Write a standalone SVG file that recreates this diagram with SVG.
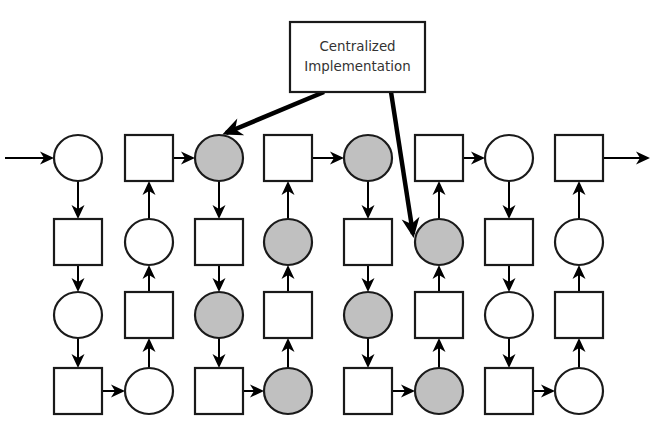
<svg xmlns="http://www.w3.org/2000/svg" width="655" height="426" viewBox="0 0 655 426">
<defs>
<style>
.n{stroke:#1a1a1a;stroke-width:2.2;fill:#fff}
.g{fill:#c0c0c0}
.e{stroke:#000;stroke-width:2;fill:none;marker-end:url(#a)}
.t{stroke:#000;stroke-width:4.5;fill:none;marker-end:url(#b)}
.lbl{font-family:"DejaVu Sans",sans-serif;font-size:13.4px;fill:#333;text-anchor:middle}
</style>
<marker id="a" viewBox="-15 -8 17 16" markerWidth="17" markerHeight="16" refX="-3" refY="0" orient="auto" markerUnits="userSpaceOnUse">
<path d="M0,0 L-14,-6.5 L-10,0 L-14,6.5 Z" fill="#000"/>
</marker>
<marker id="b" viewBox="-22 -10 24 20" markerWidth="24" markerHeight="20" refX="-4" refY="0" orient="auto" markerUnits="userSpaceOnUse">
<path d="M0,0 L-20,-9 L-14,0 L-20,9 Z" fill="#000"/>
</marker>
</defs>
<rect width="655" height="426" fill="#fff"/>

<g id="connectors">
<line class="e" x1="5" y1="158" x2="51" y2="158"/>
<line class="e" x1="173" y1="158" x2="192" y2="158"/>
<line class="e" x1="312" y1="158" x2="341" y2="158"/>
<line class="e" x1="463" y1="158" x2="482" y2="158"/>
<line class="e" x1="603" y1="158" x2="647" y2="158"/>
<line class="e" x1="102" y1="391" x2="122" y2="391"/>
<line class="e" x1="243" y1="391" x2="261" y2="391"/>
<line class="e" x1="392" y1="391" x2="412" y2="391"/>
<line class="e" x1="533" y1="391" x2="552" y2="391"/>
<line class="e" x1="78" y1="181" x2="78" y2="216"/>
<line class="e" x1="78" y1="265" x2="78" y2="289"/>
<line class="e" x1="78" y1="338" x2="78" y2="365"/>
<line class="e" x1="219" y1="181" x2="219" y2="216"/>
<line class="e" x1="219" y1="265" x2="219" y2="289"/>
<line class="e" x1="219" y1="338" x2="219" y2="365"/>
<line class="e" x1="368" y1="181" x2="368" y2="216"/>
<line class="e" x1="368" y1="265" x2="368" y2="289"/>
<line class="e" x1="368" y1="338" x2="368" y2="365"/>
<line class="e" x1="509" y1="181" x2="509" y2="216"/>
<line class="e" x1="509" y1="265" x2="509" y2="289"/>
<line class="e" x1="509" y1="338" x2="509" y2="365"/>
<line class="e" x1="149" y1="368" x2="149" y2="341"/>
<line class="e" x1="149" y1="292" x2="149" y2="268"/>
<line class="e" x1="149" y1="219" x2="149" y2="184"/>
<line class="e" x1="288" y1="368" x2="288" y2="341"/>
<line class="e" x1="288" y1="292" x2="288" y2="268"/>
<line class="e" x1="288" y1="219" x2="288" y2="184"/>
<line class="e" x1="439" y1="368" x2="439" y2="341"/>
<line class="e" x1="439" y1="292" x2="439" y2="268"/>
<line class="e" x1="439" y1="219" x2="439" y2="184"/>
<line class="e" x1="579" y1="368" x2="579" y2="341"/>
<line class="e" x1="579" y1="292" x2="579" y2="268"/>
<line class="e" x1="579" y1="219" x2="579" y2="184"/>
<line class="t" x1="324" y1="92" x2="226" y2="133"/>
<line class="t" x1="391" y1="92" x2="413" y2="234"/>
</g>

<g id="box">
<rect class="n" x="290" y="22" width="135" height="70"/>
<text class="lbl" x="357.5" y="51">Centralized</text>
<text class="lbl" x="357.5" y="71">Implementation</text>
</g>

<g id="r1c1"><ellipse class="n" cx="78" cy="158" rx="24" ry="23"/></g>
<g id="r1c2"><rect class="n" x="125" y="135" width="48" height="46"/></g>
<g id="r1c3"><ellipse class="n g" cx="219" cy="158" rx="24" ry="23"/></g>
<g id="r1c4"><rect class="n" x="264" y="135" width="48" height="46"/></g>
<g id="r1c5"><ellipse class="n g" cx="368" cy="158" rx="24" ry="23"/></g>
<g id="r1c6"><rect class="n" x="415" y="135" width="48" height="46"/></g>
<g id="r1c7"><ellipse class="n" cx="509" cy="158" rx="24" ry="23"/></g>
<g id="r1c8"><rect class="n" x="555" y="135" width="48" height="46"/></g>
<g id="r2c1"><rect class="n" x="54" y="219" width="48" height="46"/></g>
<g id="r2c2"><ellipse class="n" cx="149" cy="242" rx="24" ry="23"/></g>
<g id="r2c3"><rect class="n" x="195" y="219" width="48" height="46"/></g>
<g id="r2c4"><ellipse class="n g" cx="288" cy="242" rx="24" ry="23"/></g>
<g id="r2c5"><rect class="n" x="344" y="219" width="48" height="46"/></g>
<g id="r2c6"><ellipse class="n g" cx="439" cy="242" rx="24" ry="23"/></g>
<g id="r2c7"><rect class="n" x="485" y="219" width="48" height="46"/></g>
<g id="r2c8"><ellipse class="n" cx="579" cy="242" rx="24" ry="23"/></g>
<g id="r3c1"><ellipse class="n" cx="78" cy="315" rx="24" ry="23"/></g>
<g id="r3c2"><rect class="n" x="125" y="292" width="48" height="46"/></g>
<g id="r3c3"><ellipse class="n g" cx="219" cy="315" rx="24" ry="23"/></g>
<g id="r3c4"><rect class="n" x="264" y="292" width="48" height="46"/></g>
<g id="r3c5"><ellipse class="n g" cx="368" cy="315" rx="24" ry="23"/></g>
<g id="r3c6"><rect class="n" x="415" y="292" width="48" height="46"/></g>
<g id="r3c7"><ellipse class="n" cx="509" cy="315" rx="24" ry="23"/></g>
<g id="r3c8"><rect class="n" x="555" y="292" width="48" height="46"/></g>
<g id="r4c1"><rect class="n" x="54" y="368" width="48" height="46"/></g>
<g id="r4c2"><ellipse class="n" cx="149" cy="391" rx="24" ry="23"/></g>
<g id="r4c3"><rect class="n" x="195" y="368" width="48" height="46"/></g>
<g id="r4c4"><ellipse class="n g" cx="288" cy="391" rx="24" ry="23"/></g>
<g id="r4c5"><rect class="n" x="344" y="368" width="48" height="46"/></g>
<g id="r4c6"><ellipse class="n g" cx="439" cy="391" rx="24" ry="23"/></g>
<g id="r4c7"><rect class="n" x="485" y="368" width="48" height="46"/></g>
<g id="r4c8"><ellipse class="n" cx="579" cy="391" rx="24" ry="23"/></g>
</svg>
